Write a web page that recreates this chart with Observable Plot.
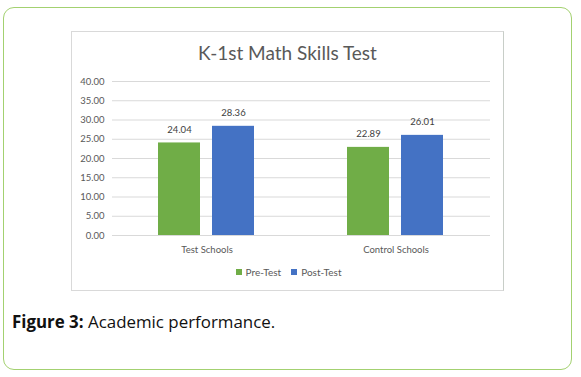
<!DOCTYPE html>
<html>
<head>
<meta charset="utf-8">
<script src="https://cdn.jsdelivr.net/npm/d3@7"></script>
<script src="https://cdn.jsdelivr.net/npm/@observablehq/plot@0.6"></script>
<style>
  html, body { margin: 0; padding: 0; background: #fff; }
  body { width: 581px; height: 377px; position: relative; overflow: hidden; font-family: Lato, "Open Sans", sans-serif; }
  #frame { position: absolute; left: 3px; top: 7px; width: 569px; height: 363px; box-sizing: border-box;
           border: 1.5px solid #a3d170; border-radius: 11px; }
  #box { position: absolute; left: 71px; top: 31px; width: 433px; height: 260px; box-sizing: border-box;
         border: 1px solid #d9d9d9; border-right-color: #c8cec8; }
  #title { position: absolute; left: 71px; top: 41px; width: 433px; text-align: center; font-size: 19px; color: #595959; line-height: 24px; }
  #chart { position: absolute; left: 71px; top: 70px; }
  #legend { position: absolute; left: 71px; top: 265px; width: 433px; display: flex; justify-content: center; gap: 10px;
            font-size: 10px; color: #595959; line-height: 14px; padding-left: 2px; box-sizing: border-box; }
  #legend .item { display: flex; align-items: center; gap: 4px; }
  #legend .sw { width: 6px; height: 6px; display: inline-block; }
  #caption { position: absolute; left: 12px; top: 311px; font-family: "Open Sans", sans-serif; font-size: 16.9px; color: #111; line-height: 22px; }
</style>
</head>
<body>
<div id="frame"></div>
<div id="box"></div>
<div id="title">K-1st Math Skills Test</div>
<div id="chart"></div>
<div id="legend"></div>
<div id="caption"><b>Figure 3:</b> Academic performance.</div>
<script>
const schools = ["Test Schools", "Control Schools"];
const tests = ["Pre-Test", "Post-Test"];
const preValues = [24.04, 22.89];
const postValues = [28.36, 26.01];
const colors = ["#70ad47", "#4472c4"];
const yTicks = [0, 5, 10, 15, 20, 25, 30, 35, 40];

const data = [];
schools.forEach((s, i) => {
  data.push({school: s, test: tests[0], value: preValues[i]});
  data.push({school: s, test: tests[1], value: postValues[i]});
});

const chart = Plot.plot({
  width: 433,
  height: 190,
  marginLeft: 41,
  marginRight: 14,
  marginTop: 11,
  marginBottom: 25,
  style: {fontFamily: "Lato, 'Open Sans', sans-serif", fontSize: "9.5px", color: "#595959", background: "transparent"},
  fx: {domain: schools, padding: 0, label: null},
  x: {domain: tests, axis: null, paddingInner: 0.222, paddingOuter: 0.85},
  y: {domain: [0, 40], label: null},
  color: {domain: tests, range: colors},
  marks: [
    Plot.gridY(yTicks, {stroke: "#d9d9d9", strokeOpacity: 1}),
    Plot.axisY(yTicks, {tickSize: 0, tickPadding: 8, tickFormat: d => d.toFixed(2), label: null, fill: "#595959"}),
    Plot.axisFx({anchor: "bottom", tickSize: 0, tickPadding: 11, label: null, fill: "#595959"}),
    Plot.barY(data, {fx: "school", x: "test", y: "value", fill: "test"}),
    Plot.text(data, {fx: "school", x: "test", y: "value", text: d => d.value.toFixed(2), dy: -13, fill: "#404040"})
  ]
});
document.getElementById("chart").appendChild(chart);

const legend = document.getElementById("legend");
tests.forEach((t, i) => {
  const item = document.createElement("span");
  item.className = "item";
  const sw = document.createElement("span");
  sw.className = "sw";
  sw.style.background = colors[i];
  const lab = document.createElement("span");
  lab.textContent = t;
  item.appendChild(sw);
  item.appendChild(lab);
  legend.appendChild(item);
});
</script>
</body>
</html>
